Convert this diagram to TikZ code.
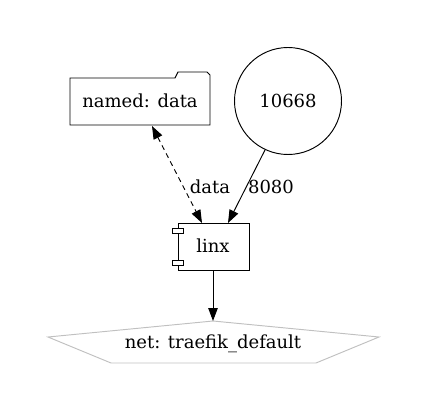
\documentclass[tikz,border=0pt]{standalone}
\usepackage{fontspec}
\setmainfont{DejaVu Serif}
\usetikzlibrary{arrows.meta}
\begin{document}
\begin{tikzpicture}[x=1pt,y=-1pt,
  lbl/.style={font=\fontsize{18}{20}\selectfont, inner sep=0pt},
  tip/.tip={Triangle[length=13pt,width=9.5pt]},
  ln/.style={line width=0.95pt}]
\useasboundingbox (0,0) rectangle (428,417);
% folder
\draw[ln] (70,78) -- (175,78) -- (178,72) -- (207,72) -- (210,75) -- (210,125) -- (70,125) -- cycle;
\node[lbl] (vol) at (140,101) {named: data};
\coordinate (volb) at (152,126);
% circle
\draw[ln] (288,101) circle (53.5);
\node[lbl] (port) at (288,101) {10668};
\coordinate (portb) at (265,150);
% component
\draw[ln] (178,223) rectangle (249,270);
\draw[ln, fill=white] (172,228) rectangle (183,233);
\draw[ln, fill=white] (172,260) rectangle (183,265);
\node[lbl] (linx) at (213,246) {linx};
\coordinate (linxa) at (202,223);
\coordinate (linxb) at (228,223);
\coordinate (linxc) at (213,270);
% pentagon
\draw[draw={rgb,255:red,192;green,192;blue,192}, ln]
  (213,321) -- (379,337) -- (316,363) -- (111,363) -- (48,337) -- cycle;
\node[lbl] (net) at (213,344) {net: traefik\_default};
\coordinate (neta) at (213,321);
% edges
\draw[ln, dash pattern=on 5pt off 4pt, tip-tip] (volb) -- (linxa);
\node[lbl] (l1) at (210,187) {data};
\draw[ln, -tip] (portb) -- (linxb);
\node[lbl] (l2) at (271,187) {8080};
\draw[ln, -tip] (linxc) -- (neta);
\end{tikzpicture}
\end{document}
